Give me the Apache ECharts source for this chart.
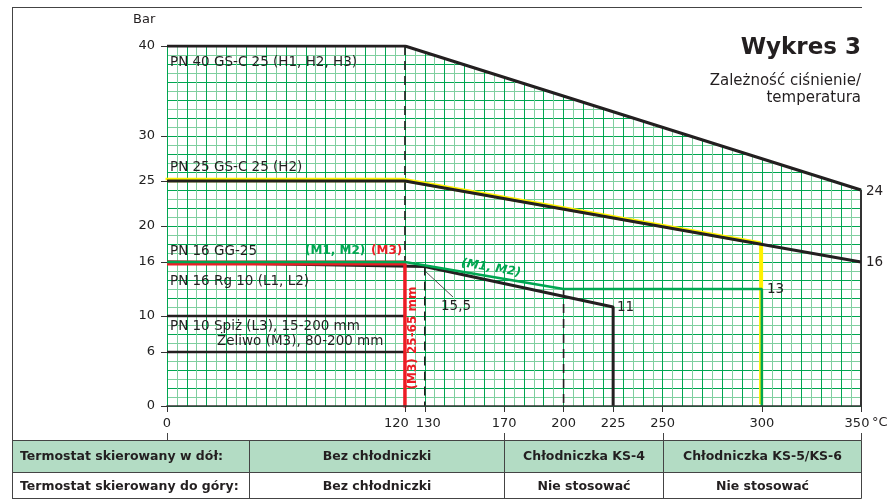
<!DOCTYPE html>
<html><head><meta charset="utf-8">
<script src="https://cdn.jsdelivr.net/npm/echarts@6/dist/echarts.min.js"></script>
<style>html,body{margin:0;padding:0;background:#fff}#c{width:895px;height:499px}</style>
</head><body><div id="c"></div>
<script>
// ---------- data ----------
const xTickLabels = [0, 120, 130, 170, 200, 225, 250, 300, 350];
const yTickLabels = [0, 6, 10, 16, 20, 25, 30, 40];
const pn40 = [[0, 40], [120, 40], [350, 24]];
const pn40Edge = [[350, 24], [350, 0]];
const pn25 = [[0, 25], [120, 25], [350, 16]];
const pn25Yellow = [[0, 25], [120, 25], [300, 17.96], [300, 0]];
const pn16Green = [[0, 16], [120, 16], [200, 13], [300, 13], [300, 0]];
const pn16Red = [[0, 16], [120, 16], [120, 0]];
const pn16Rg = [[0, 16], [130, 15.5], [225, 11], [225, 0]];
const pn10 = [[0, 10], [120, 10]];
const pn6 = [[0, 6], [120, 6]];
const dash120 = [[120, 40], [120, 0]];
const dash130 = [[130, 15.5], [130, 0]];
const dash200 = [[200, 13], [200, 0]];
const coverTop = [[120, 40], [350, 24], [350, 40]];
const tableBounds = [170, 250, 350];
const tableRow1 = ['Termostat skierowany w dół:', 'Bez chłodniczki', 'Chłodniczka KS-4', 'Chłodniczka KS-5/KS-6'];
const tableRow2 = ['Termostat skierowany do góry:', 'Bez chłodniczki', 'Nie stosować', 'Nie stosować'];

// ---------- styles ----------
const FONT = '"DejaVu Sans", Verdana, sans-serif';
const BLACK = '#231f20';
const GDARK = '#00a651';
const GLIGHT = '#7fcf9f';
const GREEN = '#00a651';
const RED = '#ed1c24';
const YELLOW = '#fff200';

const chart = echarts.init(document.getElementById('c'), null, { renderer: 'canvas' });

function lineSeries(data, style, extra) {
  return Object.assign({
    type: 'line', data: data, symbol: 'none', silent: true, animation: false, z: 10,
    lineStyle: style
  }, extra || {});
}

const xLabelFmt = function (v) {
  if (v === 120) return '{l|120}';
  if (v === 130) return '{r|130}';
  if (v === 350) return '{e|350}';
  return String(v);
};

const option = {
  animation: false,
  backgroundColor: '#fff',
  grid: { left: 167, right: 34, top: 46, bottom: 93 },
  xAxis: [
    { type: 'value', min: 0, max: 350, interval: 5, position: 'bottom', z: 0,
      axisLine: { show: false }, axisTick: { show: false }, axisLabel: { show: false },
      splitLine: { show: true, lineStyle: { color: [GDARK, GLIGHT], width: 1 } } },
    { type: 'value', min: 0, max: 350, position: 'bottom', z: 20,
      axisLine: { show: true, onZero: false, lineStyle: { color: '#333', width: 1.5 } },
      axisTick: { show: true, customValues: xTickLabels, length: 6, lineStyle: { color: '#333' } },
      axisLabel: { customValues: xTickLabels, margin: 11, fontSize: 13, color: '#222', fontFamily: FONT,
        formatter: xLabelFmt,
        rich: { l: { padding: [0, 17, 0, 0], fontSize: 13, fontFamily: FONT, color: '#222' },
                r: { padding: [0, 0, 0, 7], fontSize: 13, fontFamily: FONT, color: '#222' },
                e: { padding: [0, 8, 0, 0], fontSize: 13, fontFamily: FONT, color: '#222' } } },
      splitLine: { show: false } }
  ],
  yAxis: [
    { type: 'value', min: 0, max: 40, interval: 1, position: 'left', z: 0,
      axisLine: { show: false }, axisTick: { show: false }, axisLabel: { show: false },
      splitLine: { show: true, lineStyle: { color: [GDARK, GLIGHT], width: 1 } } },
    { type: 'value', min: 0, max: 40, position: 'left', z: 20,
      axisLine: { show: false },
      axisTick: { show: true, customValues: yTickLabels, length: 6, lineStyle: { color: '#333' } },
      axisLabel: { customValues: yTickLabels, margin: 12, fontSize: 13, color: '#222', fontFamily: FONT },
      splitLine: { show: false } }
  ],
  series: [
    lineSeries(dash120, { color: BLACK, width: 1.6, type: [9, 6] }),
    lineSeries(dash130, { color: BLACK, width: 1.6, type: [9, 6] }),
    lineSeries(dash200, { color: BLACK, width: 1.6, type: [9, 6] }),
    lineSeries(pn40, { color: BLACK, width: 3 }),
    lineSeries(pn40Edge, { color: '#333', width: 2 }),
    lineSeries(pn25Yellow, { color: YELLOW, width: 2.5, shadowColor: YELLOW, shadowBlur: 0, shadowOffsetY: -2, shadowOffsetX: -1.5 }),
    lineSeries(pn25, { color: BLACK, width: 3 }),
    lineSeries(pn10, { color: BLACK, width: 2.5 }),
    lineSeries(pn6, { color: BLACK, width: 2.5 }),
    lineSeries(pn16Rg, { color: BLACK, width: 3 }),
    lineSeries(pn16Red, { color: RED, width: 3, shadowColor: RED, shadowBlur: 0, shadowOffsetY: 2 }),
    lineSeries(pn16Green, { color: GREEN, width: 2.5 })
  ]
};
chart.setOption(option);

// ---------- annotations and table (layout) ----------
const px = (x, y) => chart.convertToPixel({ xAxisIndex: 0, yAxisIndex: 0 }, [x, y]);
const g = [];
function txt(x, y, s, o) {
  o = o || {};
  g.push({ type: 'text', x: x, y: y, rotation: o.rot || 0, z: 100, silent: true,
    style: { text: s, fill: o.color || BLACK, font: (o.style || '') + ' ' + (o.weight || 'normal') + ' ' + (o.size || 13) + 'px ' + FONT,
      align: o.align || 'left', verticalAlign: 'middle' } });
}
function ln(x1, y1, x2, y2, color, w) {
  g.push({ type: 'line', z: 100, silent: true, shape: { x1: x1, y1: y1, x2: x2, y2: y2 }, style: { stroke: color, lineWidth: w } });
}

// white cover above the PN 40 envelope (hides the grid there)
(function () {
  const pts = coverTop.map(function (p, i) {
    const c = px(p[0], p[1]);
    return i > 0 ? [c[0] + 2, c[1] - (i === 2 ? 2 : 0)] : [c[0], c[1] - 1];
  });
  g.push({ type: 'polygon', z: 5, silent: true, shape: { points: pts }, style: { fill: '#ffffff', stroke: null } });
})();

// frame
ln(12, 7.5, 862, 7.5, '#444', 1);
ln(12.5, 7, 12.5, 499, '#444', 1);

txt(133, 20, 'Bar');
txt(170, 62, 'PN 40 GS-C 25 (H1, H2, H3)', { size: 13.5 });
txt(170, 167, 'PN 25 GS-C 25 (H2)', { size: 13.5 });
txt(170, 251, 'PN 16 GG-25', { size: 13.5 });
txt(305, 251, '(M1, M2)', { color: GREEN, weight: 'bold', size: 12 });
txt(371, 251, '(M3)', { color: RED, weight: 'bold', size: 12 });
txt(170, 281, 'PN 16 Rg 10 (L1, L2)', { size: 13.5 });
txt(170, 326, 'PN 10 Spiż (L3), 15-200 mm', { size: 13.5 });
txt(217, 341, 'Żeliwo (M3), 80-200 mm', { size: 13.5 });
txt(861, 48, 'Wykres 3', { weight: 'bold', size: 23, align: 'right' });
txt(861, 81, 'Zależność ciśnienie/', { align: 'right', size: 15 });
txt(861, 98, 'temperatura', { align: 'right', size: 15 });
txt(441, 306, '15,5', { size: 13.5 });
txt(617, 307, '11', { size: 13.5 });
txt(767, 289, '13', { size: 13.5 });
txt(866, 191, '24', { size: 13.5 });
txt(866, 262, '16', { size: 13.5 });
txt(872, 423, '°C');
// rotated labels
g.push({ type: 'text', x: 413, y: 338, rotation: Math.PI / 2, z: 100, silent: true,
  style: { text: '(M3) 25-65 mm', fill: RED, font: 'bold 12px ' + FONT, align: 'center', verticalAlign: 'middle' } });
(function () {
  const a = px(120, 16), b = px(200, 13);
  const ang = Math.atan2(b[1] - a[1], b[0] - a[0]);
  g.push({ type: 'text', x: 491, y: 268, rotation: -ang, z: 100, silent: true,
    style: { text: '(M1, M2)', fill: GREEN, font: 'italic bold 12px ' + FONT, align: 'center', verticalAlign: 'middle' } });
})();
// leader for 15,5
ln(425, 271, 453, 297, BLACK, 0.8);

// table
const colX = [12.5, 249.5].concat(tableBounds.map(v => Math.round(px(v, 0)[0]) + 0.5));
const r1 = 440.5, r2 = 472.5, r3 = 498.5;
g.push({ type: 'rect', z: 90, silent: true, shape: { x: colX[0], y: r1, width: colX[4] - colX[0], height: r2 - r1 }, style: { fill: '#b3dcc4' } });
ln(colX[0], r1, colX[4], r1, '#444', 1);
ln(colX[0], r2, colX[4], r2, '#444', 1);
ln(colX[0], r3, colX[4], r3, '#444', 1);
colX.forEach(x => ln(x, r1, x, r3, '#444', 1));
[0].concat(tableBounds).forEach(v => { const x = Math.round(px(v, 0)[0]) + 0.5; ln(x, 433, x, r1, '#444', 1); });
[tableRow1, tableRow2].forEach((row, ri) => {
  const y = ri === 0 ? (r1 + r2) / 2 : (r2 + r3) / 2 + 1;
  row.forEach((s, ci) => {
    if (ci === 0) txt(20, y, s, { weight: 'bold', size: 12.5 });
    else txt((colX[ci] + colX[ci + 1]) / 2, y, s, { weight: 'bold', size: 12.5, align: 'center' });
  });
});

chart.setOption({ graphic: g });
</script></body></html>
